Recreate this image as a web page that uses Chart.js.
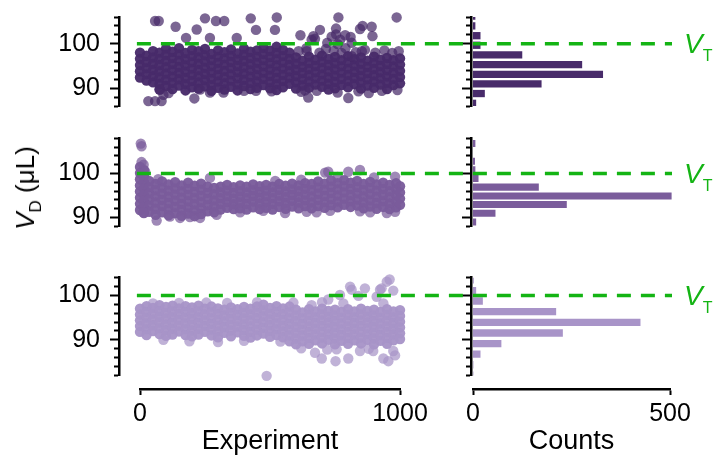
<!DOCTYPE html>
<html>
<head>
<meta charset="utf-8">
<script src="https://cdn.jsdelivr.net/npm/chart.js@4.4.1/dist/chart.umd.min.js"></script>
<style>
  body { margin: 0; background: #fff; }
  #fig { position: relative; width: 713px; height: 459px; overflow: hidden; font-family: Arial, "Liberation Sans", sans-serif; }
  #fig canvas { position: absolute; }
  .vt { position: absolute; left: 684px; color: #14b414; font-size: 28px; line-height: 28px; white-space: nowrap; }
  .vt span { font-size: 16px; position: relative; top: 8px; font-style: normal; }
  #ylab { position: absolute; left: 27px; top: 188px; transform: translate(-50%, -50%) rotate(-90deg); font-size: 26px; line-height: 30px; white-space: nowrap; color: #000; }
  #ylab span { font-size: 17px; position: relative; top: 7px; }
</style>
</head>
<body>
<div id="fig">
  <canvas id="h1"></canvas>
  <canvas id="h2"></canvas>
  <canvas id="h3"></canvas>
  <canvas id="s1"></canvas>
  <canvas id="s2"></canvas>
  <canvas id="s3"></canvas>
  <canvas id="axExp" width="340" height="79"></canvas>
  <canvas id="axCnt" width="273" height="79"></canvas>
  <div class="vt" style="top:30px"><i>V</i><span>T</span></div>
  <div class="vt" style="top:160px"><i>V</i><span>T</span></div>
  <div class="vt" style="top:282px"><i>V</i><span>T</span></div>
  <div id="ylab"><i>V</i><span>D</span> (μL)</div>
</div>
<script>
// threshold volume V_T (µL) and its drawn span along the experiment axis
const vThreshold = 100;
const vtSpan = [-12, 2046];

// scatter core: each column = [experiment, volume, volume, ...]
const run1 = [
  [0, 98.0, 96.6, 95.2, 93.8, 92.4],
  [25, 97.3, 95.9, 94.5, 93.1, 91.7],
  [50, 98.3, 96.9, 95.5, 94.1, 92.7, 91.3],
  [75, 98.0, 96.6, 95.2, 93.8, 92.4, 91.0, 89.7],
  [100, 98.9, 97.5, 96.1, 94.7, 93.3, 91.9, 90.5],
  [125, 98.2, 96.8, 95.4, 94.0, 92.6, 91.2, 89.8],
  [150, 99.0, 97.6, 96.2, 94.8, 93.4, 92.0, 90.6],
  [175, 97.9, 96.5, 95.1, 93.7, 92.3, 90.9, 89.5],
  [200, 98.6, 97.2, 95.8, 94.4, 93.0, 91.6, 90.2],
  [225, 98.3, 96.9, 95.5, 94.1, 92.7, 91.3, 89.9],
  [250, 98.8, 97.4, 96.0, 94.6, 93.2, 91.8, 90.4],
  [275, 97.7, 96.3, 94.9, 93.5, 92.1, 90.7, 89.4],
  [300, 98.5, 97.1, 95.7, 94.3, 92.9, 91.5, 90.1],
  [325, 98.1, 96.7, 95.3, 93.9, 92.5, 91.1, 89.7],
  [350, 98.7, 97.3, 95.9, 94.5, 93.1, 91.7, 90.3],
  [375, 97.8, 96.4, 95.0, 93.6, 92.2, 90.8, 89.5],
  [400, 98.9, 97.5, 96.1, 94.7, 93.3, 91.9, 90.5],
  [425, 98.2, 96.8, 95.4, 94.0, 92.6, 91.2, 89.8],
  [450, 98.5, 97.1, 95.7, 94.3, 92.9, 91.5, 90.1],
  [475, 99.1, 97.7, 96.3, 94.9, 93.5, 92.1, 90.7],
  [500, 98.4, 97.0, 95.6, 94.2, 92.8, 91.4, 90.0],
  [525, 99.3, 97.9, 96.5, 95.1, 93.7, 92.3, 90.9, 89.6],
  [550, 98.6, 97.2, 95.8, 94.4, 93.0, 91.6, 90.2],
  [575, 98.0, 96.6, 95.2, 93.8, 92.4, 91.0],
  [600, 96.9, 95.5, 94.1, 92.7, 91.3, 89.9],
  [625, 96.2, 94.8, 93.4, 92.0, 90.6],
  [650, 97.1, 95.7, 94.3, 92.9, 91.5, 90.1],
  [675, 96.4, 95.0, 93.6, 92.2, 90.8],
  [700, 97.3, 95.9, 94.5, 93.1, 91.7, 90.3],
  [725, 96.6, 95.2, 93.8, 92.4, 91.0, 89.7],
  [750, 97.0, 95.6, 94.2, 92.8, 91.4, 90.0],
  [775, 96.3, 94.9, 93.5, 92.1, 90.7],
  [800, 97.2, 95.8, 94.4, 93.0, 91.6, 90.2],
  [825, 96.5, 95.1, 93.7, 92.3, 90.9],
  [850, 96.9, 95.5, 94.1, 92.7, 91.3, 89.9],
  [875, 96.2, 94.8, 93.4, 92.0, 90.6],
  [900, 97.1, 95.7, 94.3, 92.9, 91.5, 90.1],
  [925, 96.4, 95.0, 93.6, 92.2, 90.8],
  [950, 96.8, 95.4, 94.0, 92.6, 91.2, 89.8],
  [975, 96.3, 94.9, 93.5, 92.1, 90.7],
  [1000, 96.7, 95.3, 93.9, 92.5, 91.1]
];
// scattered single points: [experiment, volume]
const run1Loose = [
  [58, 105.1], [72, 105.1], [137, 103.8], [177, 101.3], [218, 103.2], [250, 105.7], [269, 101.3],
  [292, 105.1], [324, 105.1], [372, 101.3], [426, 105.7], [446, 103.1], [526, 105.9], [519, 103.1],
  [617, 101.9], [641, 98.3], [660, 100.9], [667, 101.7], [673, 101.1], [692, 103.1], [720, 100.2],
  [737, 101.6], [754, 103.4], [754, 102.1], [760, 99.9], [763, 105.9], [770, 100.9], [775, 97.9],
  [789, 101.9], [810, 101.5], [814, 100.2], [814, 97.2], [846, 103.3], [853, 98.3], [856, 104.0],
  [891, 103.8], [894, 101.7], [987, 105.9],
  [610, 98.3], [640, 99.0], [690, 98.0], [715, 98.8], [745, 98.4], [790, 99.0], [830, 98.1],
  [865, 98.6], [905, 98.0], [940, 98.5], [970, 97.9], [995, 98.3],
  [32, 87.1], [58, 87.1], [83, 87.1], [77, 89.7], [90, 88.5], [110, 88.9], [209, 87.7], [231, 89.7],
  [269, 89.0], [321, 89.0], [400, 89.4], [446, 89.4], [506, 89.3], [620, 89.2], [635, 89.5],
  [647, 87.9], [680, 89.4], [760, 89.0], [801, 87.8], [840, 89.3], [880, 88.9], [930, 89.4], [990, 89.6]
];

const run2 = [
  [0, 101.5, 100.1, 98.7, 97.3, 95.9, 94.5, 93.1, 91.7],
  [15, 100.8, 99.4, 98.0, 96.6, 95.2, 93.8, 92.4, 91.0],
  [35, 98.3, 96.9, 95.5, 94.1, 92.7, 91.3],
  [60, 97.6, 96.2, 94.8, 93.4, 92.0, 90.6],
  [85, 98.2, 96.8, 95.4, 94.0, 92.6, 91.2],
  [110, 97.5, 96.1, 94.7, 93.3, 91.9, 90.5],
  [135, 98.0, 96.6, 95.2, 93.8, 92.4, 91.0],
  [160, 97.3, 95.9, 94.5, 93.1, 91.7, 90.4],
  [185, 97.9, 96.5, 95.1, 93.7, 92.3, 90.9],
  [210, 97.2, 95.8, 94.4, 93.0, 91.6, 90.3],
  [235, 97.7, 96.3, 94.9, 93.5, 92.1, 90.8],
  [260, 97.0, 95.6, 94.2, 92.8, 91.4],
  [285, 96.7, 95.3, 93.9, 92.5, 91.2],
  [310, 97.0, 95.7, 94.4, 93.1, 91.8],
  [335, 97.4, 96.1, 94.8, 93.5, 92.2],
  [360, 96.9, 95.6, 94.3, 93.0, 91.9],
  [385, 97.3, 96.0, 94.7, 93.4, 92.1],
  [410, 97.0, 95.7, 94.4, 93.1, 91.8],
  [435, 97.5, 96.2, 94.9, 93.6, 92.3],
  [460, 97.1, 95.8, 94.5, 93.2, 91.9],
  [485, 97.4, 96.1, 94.8, 93.5, 92.2],
  [510, 97.0, 95.7, 94.4, 93.1, 91.8],
  [535, 97.6, 96.3, 95.0, 93.7, 92.4],
  [560, 97.2, 95.9, 94.6, 93.3, 92.0],
  [585, 97.7, 96.4, 95.1, 93.8, 92.5],
  [610, 97.3, 96.0, 94.7, 93.4, 92.1],
  [635, 97.8, 96.5, 95.2, 93.9, 92.6],
  [660, 97.6, 96.2, 94.8, 93.4, 92.1],
  [685, 98.2, 96.8, 95.4, 94.0, 92.6],
  [710, 97.7, 96.3, 94.9, 93.5, 92.2],
  [735, 98.4, 97.0, 95.6, 94.2, 92.8],
  [760, 97.8, 96.4, 95.0, 93.6, 92.3],
  [785, 98.5, 97.1, 95.7, 94.3, 92.9],
  [810, 97.9, 96.5, 95.1, 93.7, 92.4],
  [835, 98.3, 96.9, 95.5, 94.1, 92.7],
  [860, 97.6, 96.2, 94.8, 93.4, 92.1],
  [885, 98.1, 96.7, 95.3, 93.9, 92.5],
  [910, 97.5, 96.1, 94.7, 93.3, 92.0],
  [935, 97.9, 96.5, 95.1, 93.7, 92.4],
  [960, 97.4, 96.0, 94.6, 93.2, 91.9],
  [985, 97.8, 96.4, 95.0, 93.6, 92.3],
  [1000, 97.1, 95.7, 94.3, 92.9]
];
const run2Loose = [
  [3, 106.8], [6, 106.2], [6, 102.6], [14, 102.0], [20, 100.4], [64, 89.3], [13, 91.2],
  [115, 90.2], [154, 89.9], [192, 90.1], [231, 89.9], [295, 90.6], [385, 91.2], [474, 91.5],
  [558, 91.0], [641, 91.3], [679, 91.2], [731, 91.5], [846, 91.4], [885, 91.2], [949, 91.0],
  [981, 91.3], [724, 100.4], [712, 100.2], [801, 100.4], [846, 100.8], [981, 99.3], [269, 99.0],
  [70, 98.7], [760, 99.2], [900, 99.1], [620, 98.6], [520, 98.3]
];

const run3 = [
  [0, 97.0, 95.7, 94.4, 93.1, 91.8],
  [25, 97.6, 96.3, 95.0, 93.7, 92.4, 91.1],
  [50, 97.2, 95.9, 94.6, 93.3, 92.0],
  [75, 97.8, 96.5, 95.2, 93.9, 92.6, 91.3],
  [100, 97.4, 96.1, 94.8, 93.5, 92.2, 90.9],
  [125, 97.7, 96.4, 95.1, 93.8, 92.5, 91.2],
  [150, 97.1, 95.8, 94.5, 93.2, 91.9],
  [175, 97.6, 96.3, 95.0, 93.7, 92.4, 91.1],
  [200, 97.3, 96.0, 94.7, 93.4, 92.1, 90.8],
  [225, 97.7, 96.4, 95.1, 93.8, 92.5, 91.2],
  [250, 97.0, 95.7, 94.4, 93.1, 91.8],
  [275, 97.5, 96.2, 94.9, 93.6, 92.3, 91.0],
  [300, 97.1, 95.8, 94.5, 93.2, 91.9, 90.6],
  [325, 96.8, 95.5, 94.2, 92.9, 91.6],
  [350, 97.3, 96.0, 94.7, 93.4, 92.1, 90.8],
  [375, 96.9, 95.6, 94.3, 93.0, 91.7],
  [400, 97.4, 96.1, 94.8, 93.5, 92.2, 90.9],
  [425, 97.0, 95.7, 94.4, 93.1, 91.8, 90.5],
  [450, 97.5, 96.2, 94.9, 93.6, 92.3, 91.0],
  [475, 97.9, 96.6, 95.3, 94.0, 92.7, 91.4],
  [500, 97.2, 95.9, 94.6, 93.3, 92.0, 90.7],
  [525, 97.6, 96.3, 95.0, 93.7, 92.4, 91.1],
  [550, 97.1, 95.8, 94.5, 93.2, 91.9, 90.6],
  [575, 97.5, 96.2, 94.9, 93.6, 92.3, 91.0, 89.7],
  [600, 96.8, 95.5, 94.2, 92.9, 91.6, 90.3, 89.0],
  [625, 96.2, 94.9, 93.6, 92.3, 91.0, 89.7],
  [650, 96.9, 95.6, 94.3, 93.0, 91.7, 90.4, 89.1],
  [675, 96.4, 95.1, 93.8, 92.5, 91.2, 89.9],
  [700, 97.0, 95.7, 94.4, 93.1, 91.8, 90.5, 89.2],
  [725, 96.5, 95.2, 93.9, 92.6, 91.3, 90.0],
  [750, 96.8, 95.5, 94.2, 92.9, 91.6, 90.3, 89.0],
  [775, 96.3, 95.0, 93.7, 92.4, 91.1, 89.8],
  [800, 96.9, 95.6, 94.3, 93.0, 91.7, 90.4, 89.1],
  [825, 96.4, 95.1, 93.8, 92.5, 91.2, 89.9],
  [850, 97.0, 95.7, 94.4, 93.1, 91.8, 90.5, 89.2],
  [875, 96.5, 95.2, 93.9, 92.6, 91.3, 90.0],
  [900, 96.8, 95.5, 94.2, 92.9, 91.6, 90.3, 89.0],
  [925, 96.3, 95.0, 93.7, 92.4, 91.1, 89.8],
  [950, 96.9, 95.6, 94.3, 93.0, 91.7, 90.4, 89.1],
  [975, 96.4, 95.1, 93.8, 92.5, 91.2, 89.9],
  [1000, 96.7, 95.4, 94.1, 92.8, 91.5, 90.2]
];
const run3Loose = [
  [724, 99.1], [769, 100.1], [782, 98.2], [814, 101.3], [808, 102.0], [865, 101.6], [840, 99.9],
  [910, 99.7], [929, 101.6], [949, 103.1], [974, 101.1], [936, 98.2], [923, 101.3], [960, 103.6],
  [700, 98.5], [660, 97.8], [590, 98.4], [335, 98.3], [150, 98.3], [50, 98.2], [255, 98.4], [450, 98.5],
  [487, 81.9], [673, 87.1], [699, 85.8], [756, 87.9], [752, 85.2], [801, 85.8], [846, 87.5],
  [897, 87.5], [936, 85.8], [955, 85.2], [974, 87.5], [981, 86.5], [720, 87.8], [880, 88.0],
  [620, 88.1], [540, 89.6], [300, 89.5], [190, 89.7], [90, 90.0], [400, 89.8]
];

// histograms: bin centres (µL) and counts
const bins1 = [106.2, 104.0, 101.8, 99.65, 97.5, 95.3, 93.1, 90.95, 88.8, 86.6];
const counts1 = [6, 6, 19, 19, 125, 277, 330, 174, 30, 8];
const bins2 = [106.8, 104.8, 102.8, 100.85, 98.85, 96.9, 94.9, 92.95, 90.95, 89.0];
const counts2 = [6, 0, 5, 6, 14, 167, 504, 238, 57, 8];
const bins3 = [103.5, 101.1, 98.75, 96.35, 93.95, 91.55, 89.15, 86.8, 84.4, 82.05];
const counts3 = [2, 8, 25, 211, 425, 228, 72, 19, 1, 1];

const expTicks = [0, 1000];
const countTicks = [0, 500];

// layout of the three rows (plot area in page pixels, axis range, colour)
const rows = [
  { s: 's1', h: 'h1', areaTop: 17.0, areaBottom: 106.0, yMin: 86, yMax: 106,
    cols: run1, loose: run1Loose, bins: bins1, counts: counts1, rgb: [72, 43, 106] },
  { s: 's2', h: 'h2', areaTop: 138.3, areaBottom: 226.3, yMin: 88, yMax: 108,
    cols: run2, loose: run2Loose, bins: bins2, counts: counts2, rgb: [122, 92, 155] },
  { s: 's3', h: 'h3', areaTop: 277.7, areaBottom: 375.4, yMin: 82, yMax: 104,
    cols: run3, loose: run3Loose, bins: bins3, counts: counts3, rgb: [168, 148, 200] }
];

const green = '#14b414';
Chart.defaults.font.family = 'Arial, "Liberation Sans", sans-serif';
Chart.defaults.color = '#000';

function toPoints(cols) {
  const pts = [];
  cols.forEach(c => c.slice(1).forEach(v => pts.push({ x: c[0], y: v })));
  return pts;
}

function volAxis(min, max, width, labels) {
  return {
    type: 'linear', position: 'left', min, max, offset: false,
    afterFit: s => { s.width = width; },
    border: { display: true, color: '#000', width: 2.5 },
    grid: {
      offset: false, drawOnChartArea: false, drawTicks: true, tickLength: 9, tickWidth: 2, tickColor: '#000',
      tickBorderDash: c => (c.tick && Math.abs(c.tick.value % 10) < 1e-6 ? [] : [0, 4, 20])
    },
    ticks: {
      display: labels, stepSize: 2, autoSkip: false, includeBounds: false, padding: 10,
      font: { size: 25 },
      callback: v => (Math.abs(v % 10) < 1e-6 ? String(v) : '')
    }
  };
}

const common = { animation: false, responsive: false, events: [],
  plugins: { legend: { display: false }, tooltip: { enabled: false } } };

function place(c, left, width, top, height) {
  c.width = width; c.height = height;
  c.style.left = left + 'px'; c.style.top = top + 'px';
}

rows.forEach(r => {
  const top = Math.floor(r.areaTop - 30);
  const bottom = Math.ceil(r.areaBottom + 30);
  const pad = { top: r.areaTop - top, bottom: bottom - r.areaBottom };
  const rgb = r.rgb.join(',');

  const sc = document.getElementById(r.s);
  place(sc, 0, 713, top, bottom - top);
  new Chart(sc, {
    type: 'scatter',
    data: { datasets: [
      { type: 'line', data: vtSpan.map(x => ({ x, y: vThreshold })), borderColor: green, borderWidth: 3.5,
        borderDash: [14, 10], pointRadius: 0, order: 0 },
      { data: r.loose.map(p => ({ x: p[0], y: p[1] })), backgroundColor: `rgba(${rgb},0.72)`,
        borderWidth: 0, pointRadius: 5.2, clip: false, order: 1 },
      { data: toPoints(r.cols), backgroundColor: `rgba(${rgb},0.96)`,
        borderWidth: 0, pointRadius: 5.2, clip: false, order: 2 }
    ] },
    options: { ...common,
      layout: { padding: { left: 0, right: 41, top: pad.top, bottom: pad.bottom } },
      scales: {
        x: { type: 'linear', display: false, min: -80.8, max: 2046 },
        y: volAxis(r.yMin, r.yMax, 119, true)
      } }
  });

  const hc = document.getElementById(r.h);
  place(hc, 400, 313, top, bottom - top);
  new Chart(hc, {
    type: 'bar',
    data: { datasets: [{ data: r.bins.map((b, i) => ({ x: r.counts[i], y: b })), backgroundColor: `rgb(${rgb})`,
      borderWidth: 0, barPercentage: 0.82, categoryPercentage: 1 }] },
    options: { ...common, indexAxis: 'y',
      layout: { padding: { left: 0, right: 41, top: pad.top, bottom: pad.bottom } },
      scales: {
        x: { type: 'linear', display: false, min: -5.1, max: 505 },
        y: volAxis(r.yMin, r.yMax, 71, false)
      } }
  });
});

function bottomAxis(id, left, ticks, title, padL, padR) {
  const c = document.getElementById(id);
  c.style.left = left + 'px'; c.style.top = '380px';
  new Chart(c, {
    type: 'scatter',
    data: { datasets: [] },
    options: { ...common,
      layout: { padding: { left: padL, right: padR, top: 5, bottom: 0 } },
      scales: {
        y: { display: false, min: 0, max: 1 },
        x: { type: 'linear', position: 'bottom', min: ticks[0], max: ticks[ticks.length - 1],
          afterFit: s => { s.height = 70; },
          afterBuildTicks: s => { s.ticks = ticks.map(v => ({ value: v })); },
          border: { display: true, color: '#000', width: 2.5 },
          grid: { drawOnChartArea: false, tickLength: 6, tickWidth: 2, tickColor: '#000' },
          ticks: { autoSkip: false, maxRotation: 0, padding: 4, font: { size: 25 }, callback: v => String(v) },
          title: { display: true, text: title, font: { size: 27 }, padding: { top: 0, bottom: 1 } }
        }
      } }
  });
}
bottomAxis('axExp', 100, expTicks, 'Experiment', 40, 40);
bottomAxis('axCnt', 440, countTicks, 'Counts', 33, 43);
</script>
</body>
</html>
